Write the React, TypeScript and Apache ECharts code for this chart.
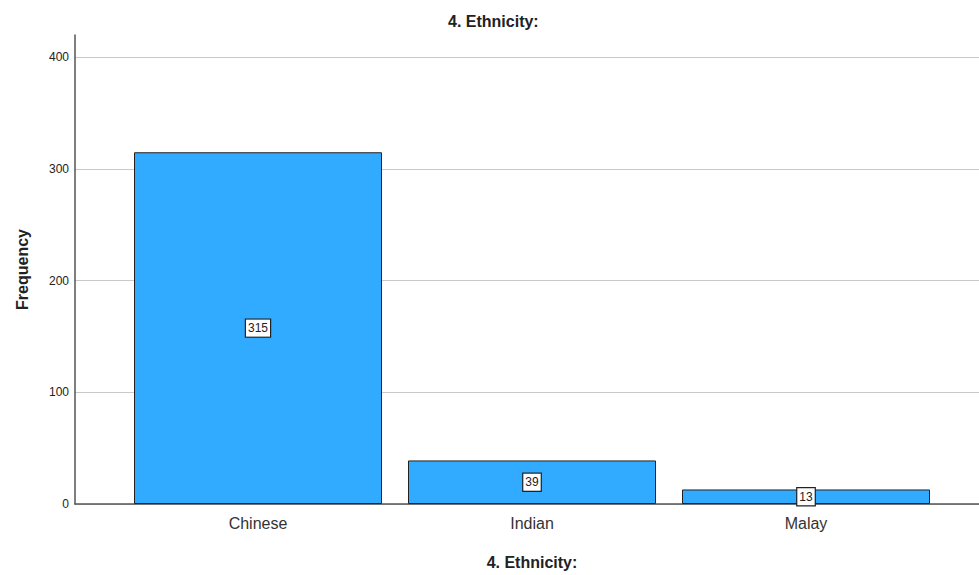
import React, { useEffect, useRef } from "react";
import * as echarts from "echarts";

const categories = ["Chinese", "Indian", "Malay"];
const frequencies = [315, 39, 13];
const titleText = "4. Ethnicity:";
const xName = "4. Ethnicity:";
const yName = "Frequency";

export default function App() {
  const ref = useRef<HTMLDivElement>(null);
  useEffect(() => {
    if (!ref.current) return;
    const chart = echarts.init(ref.current, undefined, { renderer: "svg" });
    const font = "Liberation Sans, Arial, sans-serif";
    chart.setOption({
      animation: false,
      backgroundColor: "#ffffff",
      title: {
        text: titleText,
        left: 443,
        top: 8,
        textStyle: { fontFamily: font, fontSize: 16, fontWeight: "bold", color: "#222" },
      },
      grid: [
        { left: 75, right: 0, top: 35, bottom: 71 },
        { left: 121, right: 36, top: 35, bottom: 71 },
      ],
      xAxis: [
        {
          type: "value",
          gridIndex: 0,
          min: 0,
          max: 1,
          axisLabel: { show: false },
          axisTick: { show: false },
          splitLine: { show: false },
          axisLine: { show: true, lineStyle: { color: "#555", width: 1.5 } },
        },
        {
          type: "category",
          gridIndex: 1,
          data: categories,
          axisLine: { show: false },
          axisTick: { show: false },
          axisLabel: { fontFamily: font, fontSize: 16, color: "#333", margin: 11 },
          name: xName,
          nameLocation: "middle",
          nameGap: 50,
          nameTextStyle: { fontFamily: font, fontSize: 16, fontWeight: "bold", color: "#222" },
        },
      ],
      yAxis: [
        {
          type: "value",
          gridIndex: 0,
          min: 0,
          max: 420,
          interval: 100,
          axisLine: { show: true, lineStyle: { color: "#555", width: 1.5 } },
          axisTick: { show: false },
          axisLabel: { fontFamily: font, fontSize: 12, color: "#222", margin: 6, showMaxLabel: false },
          splitLine: { show: true, showMaxLine: false, lineStyle: { color: "#c8c8c8", width: 1 } },
          name: yName,
          nameLocation: "middle",
          nameGap: 45,
          nameTextStyle: { fontFamily: font, fontSize: 16, fontWeight: "bold", color: "#222" },
        },
        {
          type: "value",
          gridIndex: 1,
          min: 0,
          max: 420,
          show: false,
        },
      ],
      series: [
        {
          type: "bar",
          xAxisIndex: 1,
          yAxisIndex: 1,
          data: frequencies,
          barWidth: 248,
          itemStyle: { color: "#30abff", borderColor: "#222", borderWidth: 1 },
          label: {
            show: true,
            position: "inside",
            fontFamily: font,
            fontSize: 12,
            color: "#222",
            backgroundColor: "#fff",
            borderColor: "#222",
            borderWidth: 1.2,
            padding: [3, 2, 2, 2],
          },
        },
      ],
    });
    return () => chart.dispose();
  }, []);
  return <div ref={ref} style={{ width: 979, height: 575, position: "fixed", left: 0, top: 0 }} />;
}
